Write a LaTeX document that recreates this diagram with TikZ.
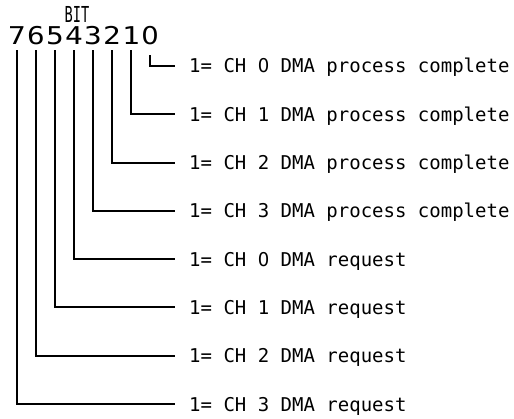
\documentclass[tikz,border=0pt]{standalone}
\usepackage{fontspec}
\newfontfamily\monofont{DejaVu Sans Mono}
\newfontfamily\plainsans{DejaVu Sans}
\newcommand{\plainzero}{\makebox[0.602em]{\plainsans\scalebox{0.95}[1]{0}}}
\begin{document}
\begin{tikzpicture}[x=1pt,y=-1pt,
  digit/.style={font=\monofont\fontsize{24.5}{24.5}\selectfont, inner sep=0pt, text height=18pt, text depth=5pt, anchor=base},
  desc/.style={font=\monofont\fontsize{19}{19}\selectfont, inner xsep=14pt, inner ysep=0pt, text height=14pt, text depth=0pt, anchor=west},
  wire/.style={line width=2pt}]
\useasboundingbox (0,0) rectangle (514,419);
\node[font=\monofont\fontsize{22}{22}\selectfont, inner sep=0pt, anchor=base] (bit) at (77,23) {\scalebox{0.62}[1]{BIT}};
\foreach \b/\x in {1/131,2/112,3/93,4/74,5/55,6/36,7/17}
  \node[digit] (d\b) at (\x,45) {\scalebox{1.2}[1]{\b}};
\node[digit, text depth=10pt] (d0) at (150,45) {\scalebox{1.12}[1]{\plainsans 0}};
\foreach \b/\t in {0/{1= CH \plainzero{} DMA process complete},1/{1= CH 1 DMA process complete},2/{1= CH 2 DMA process complete},3/{1= CH 3 DMA process complete},4/{1= CH \plainzero{} DMA request},5/{1= CH 1 DMA request},6/{1= CH 2 DMA request},7/{1= CH 3 DMA request}}
{
  \node[desc] (t\b) at (175,{66+48.3*\b}) {\t};
  \draw[wire] (d\b.south) |- (t\b.west);
}
\end{tikzpicture}
\end{document}
